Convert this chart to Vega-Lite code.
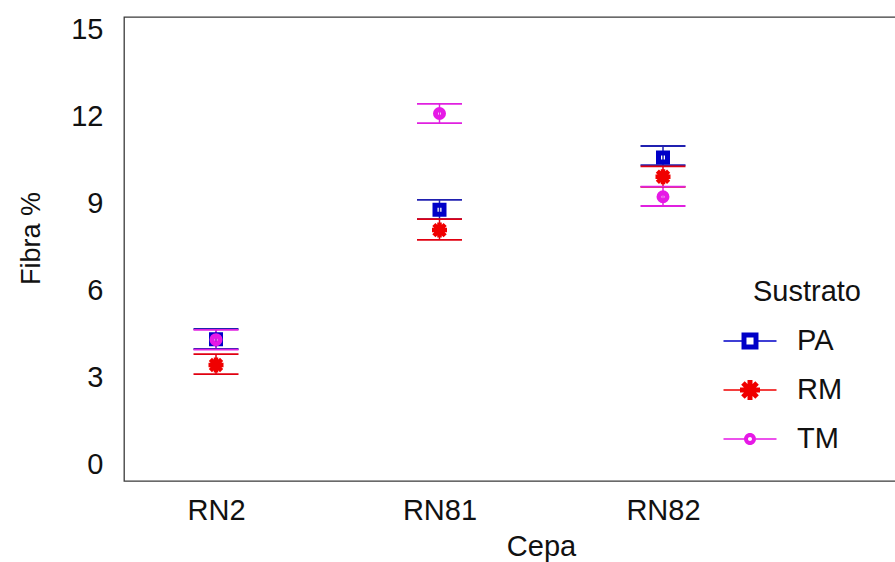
{
  "$schema": "https://vega.github.io/schema/vega-lite/v6.json",
  "width": 772,
  "height": 464,
  "autosize": {"type": "none"},
  "padding": {"left": 124, "top": 17, "right": 0, "bottom": 81},
  "background": "white",
  "config": {
    "font": "Liberation Sans",
    "view": {"stroke": "#3a3a3a", "strokeWidth": 1.3}
  },
  "data": {
    "values": [
      {"Cepa": "RN2", "Sustrato": "PA", "Fibra": 4.34, "lo": 4.0, "hi": 4.69},
      {"Cepa": "RN2", "Sustrato": "RM", "Fibra": 3.45, "lo": 3.13, "hi": 3.82},
      {"Cepa": "RN2", "Sustrato": "TM", "Fibra": 4.32, "lo": 3.98, "hi": 4.66},
      {"Cepa": "RN81", "Sustrato": "PA", "Fibra": 8.8, "lo": 8.48, "hi": 9.14},
      {"Cepa": "RN81", "Sustrato": "RM", "Fibra": 8.1, "lo": 7.76, "hi": 8.48},
      {"Cepa": "RN81", "Sustrato": "TM", "Fibra": 12.12, "lo": 11.79, "hi": 12.45},
      {"Cepa": "RN82", "Sustrato": "PA", "Fibra": 10.6, "lo": 10.34, "hi": 11.0},
      {"Cepa": "RN82", "Sustrato": "RM", "Fibra": 9.94, "lo": 9.59, "hi": 10.3},
      {"Cepa": "RN82", "Sustrato": "TM", "Fibra": 9.25, "lo": 8.93, "hi": 9.6}
    ]
  },
  "encoding": {
    "x": {
      "field": "Cepa", "type": "nominal",
      "scale": {"type": "point", "domain": ["RN2", "RN81", "RN82"], "range": [92, 539], "padding": 0},
      "axis": {
        "title": "Cepa", "titleX": 417, "labelAngle": 0, "domain": false, "ticks": false, "grid": false,
        "labelFontSize": 29, "labelPadding": 15, "labelColor": "#111",
        "titleFontSize": 29, "titleFontWeight": "normal", "titleColor": "#111", "titlePadding": 7
      }
    }
  },
  "layer": [
    {
      "mark": {"type": "rule", "strokeWidth": 1.5},
      "encoding": {
        "y": {
          "field": "lo", "type": "quantitative",
          "scale": {"domain": [-0.552, 15.448], "nice": false, "zero": false},
          "axis": {
            "title": "Fibra %", "values": [0, 3, 6, 9, 12, 15], "domain": false, "ticks": false, "grid": false,
            "labelFontSize": 29, "labelPadding": 21, "labelColor": "#111",
            "titleFontSize": 27, "titleFontWeight": "normal", "titleColor": "#111", "titlePadding": 25, "titleY": 221
          }
        },
        "y2": {"field": "hi"},
        "stroke": {"field": "Sustrato", "type": "nominal", "scale": {"range": ["#2020b0", "#e00010", "#e020e0"]}, "legend": null}
      }
    },
    {
      "mark": {"type": "rule", "strokeWidth": 1.8, "xOffset": -22.5, "x2Offset": 22.5},
      "encoding": {
        "x2": {"field": "Cepa"},
        "y": {"field": "lo", "type": "quantitative"},
        "stroke": {"field": "Sustrato", "type": "nominal", "legend": null}
      }
    },
    {
      "mark": {"type": "rule", "strokeWidth": 1.8, "xOffset": -22.5, "x2Offset": 22.5},
      "encoding": {
        "x2": {"field": "Cepa"},
        "y": {"field": "hi", "type": "quantitative"},
        "stroke": {"field": "Sustrato", "type": "nominal", "legend": null}
      }
    },
    {
      "transform": [{"filter": "datum.Sustrato === 'PA'"}],
      "mark": {"type": "point", "shape": "square", "filled": false, "size": 81, "strokeWidth": 5, "opacity": 1, "stroke": "#0000c8"},
      "encoding": {"y": {"field": "Fibra", "type": "quantitative"}}
    },
    {
      "transform": [{"filter": "datum.Sustrato === 'RM'"}],
      "mark": {"type": "point", "shape": "M-1,0H1M0,-1V1M-0.75,-0.75L0.75,0.75M-0.75,0.75L0.75,-0.75", "filled": false, "size": 225, "strokeWidth": 4.5, "opacity": 1, "stroke": "#f00000"},
      "encoding": {"y": {"field": "Fibra", "type": "quantitative"}}
    },
    {
      "transform": [{"filter": "datum.Sustrato === 'TM'"}],
      "mark": {"type": "point", "shape": "circle", "filled": false, "size": 64, "strokeWidth": 5, "opacity": 1, "stroke": "#e619e6"},
      "encoding": {"y": {"field": "Fibra", "type": "quantitative"}}
    },
    {
      "transform": [{"filter": "false"}],
      "mark": {"type": "point", "filled": true, "strokeWidth": 0, "opacity": 1},
      "encoding": {
        "y": {"field": "Fibra", "type": "quantitative"},
        "fill": {
          "field": "Sustrato", "type": "nominal",
          "scale": {"domain": ["PA", "RM", "TM"], "range": ["#0000c8", "#f00000", "#e619e6"]},
          "legend": {
            "orient": "none", "legendX": 629, "legendY": 261,
            "title": "Sustrato", "titleFontSize": 29, "titleFontWeight": "normal", "titleColor": "#111", "titlePadding": 18,
            "labelFontSize": 29, "labelColor": "#111", "labelOffset": 12,
            "symbolSize": 1024, "symbolStrokeWidth": 0, "symbolOpacity": 1, "rowPadding": 18
          }
        },
        "shape": {
          "field": "Sustrato", "type": "nominal",
          "scale": {
            "domain": ["PA", "RM", "TM"],
            "range": [
              "M-2.844,-0.047H-1.6875V0.047H-2.844Z M-0.6875,-0.047H0.469V0.047H-0.6875Z M-1.7175,-0.53H-0.6575V0.53H-1.7175Z M-1.4075,-0.22V0.22H-0.9675V-0.22Z",
              "M-2.844,-0.047H-1.5875V0.047H-2.844Z M-0.7875,-0.047H0.469V0.047H-0.7875Z M-1.8125,-0.156H-0.5625V0.156H-1.8125Z M-1.3435,-0.625H-1.0315V0.625H-1.3435Z M-1.5195,-0.552L-0.6355,0.332L-0.8555,0.552L-1.7395,-0.332Z M-0.6355,-0.332L-1.5195,0.552L-1.7395,0.332L-0.8555,-0.552Z",
              "M-2.844,-0.047H-1.5625V0.047H-2.844Z M-0.8125,-0.047H0.469V0.047H-0.8125Z M-1.5625,0C-1.5625,-0.207 -1.3945,-0.375 -1.1875,-0.375C-0.9805,-0.375 -0.8125,-0.207 -0.8125,0C-0.8125,0.207 -0.9805,0.375 -1.1875,0.375C-1.3945,0.375 -1.5625,0.207 -1.5625,0Z M-1.3125,0C-1.3125,0.069 -1.2565,0.125 -1.1875,0.125C-1.1185,0.125 -1.0625,0.069 -1.0625,0C-1.0625,-0.069 -1.1185,-0.125 -1.1875,-0.125C-1.2565,-0.125 -1.3125,-0.069 -1.3125,0Z"
            ]
          }
        }
      }
    }
  ]
}
